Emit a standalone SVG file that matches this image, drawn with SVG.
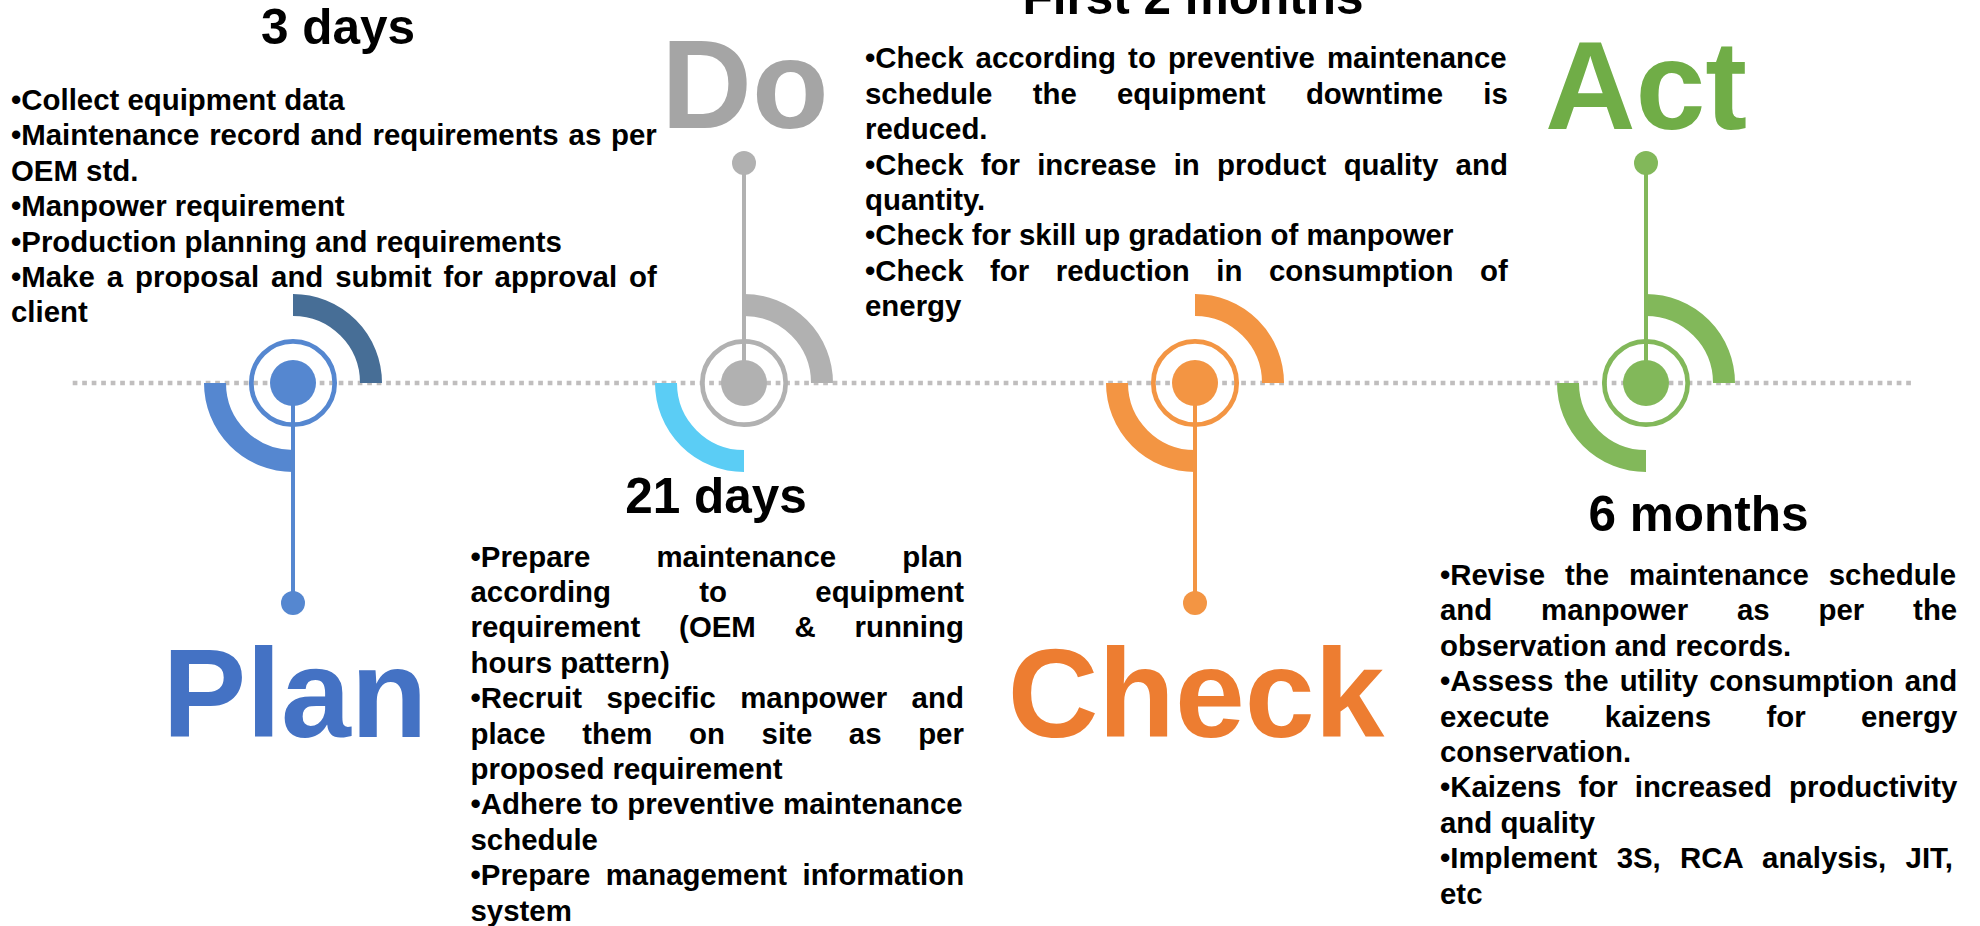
<svg xmlns="http://www.w3.org/2000/svg" width="1980" height="926" viewBox="0 0 1980 926">
<defs>
<style>
text{font-family:"Liberation Sans",Arial,sans-serif;font-weight:bold}
.b{font-size:29.4px;fill:#000}
.t{font-size:49.5px;fill:#000;text-anchor:middle}
.big{font-size:125.5px;text-anchor:middle}
.band{fill:none;stroke-width:22}
.ring{fill:none;stroke-width:4.7}
.stem{stroke-width:4}
</style>
</defs>
<rect width="1980" height="926" fill="#fff"/>
<g id="connectors">
<line x1="72.7" y1="383" x2="1912" y2="383" stroke="#C0BEBE" stroke-width="4.6" stroke-dasharray="4.7 4.8"/>
</g>
<g id="plan">
<path class="band" stroke="#476E96" d="M293,305 A78,78 0 0 1 371,383"/>
<path class="band" stroke="#5587D0" d="M215,383 A78,78 0 0 0 293,461"/>
<circle class="ring" stroke="#5587D0" cx="293" cy="383" r="41.7"/>
<circle fill="#5587D0" cx="293" cy="383" r="23"/>
<line class="stem" stroke="#5587D0" x1="293" y1="383" x2="293" y2="603"/>
<circle fill="#5587D0" cx="293" cy="603" r="12"/>
<text class="big" x="295" y="737" fill="#4472C4">Plan</text>
<text class="t" x="338" y="43.5">3 days</text>
<text class="b" x="11" y="110">•Collect equipment data</text>
<text class="b" x="11" y="145.4" word-spacing="1.66">•Maintenance record and requirements as per</text>
<text class="b" x="11" y="180.8">OEM std.</text>
<text class="b" x="11" y="216.2">•Manpower requirement</text>
<text class="b" x="11" y="251.6">•Production planning and requirements</text>
<text class="b" x="11" y="287" word-spacing="3.76">•Make a proposal and submit for approval of</text>
<text class="b" x="11" y="322.4">client</text>
</g>
<g id="do">
<path class="band" stroke="#B1B1B1" d="M744,305 A78,78 0 0 1 822,383"/>
<path class="band" stroke="#5BCDF5" d="M666,383 A78,78 0 0 0 744,461"/>
<circle class="ring" stroke="#B1B1B1" cx="744" cy="383" r="41.7"/>
<circle fill="#B1B1B1" cx="744" cy="383" r="23"/>
<line class="stem" stroke="#B1B1B1" x1="744" y1="383" x2="744" y2="163"/>
<circle fill="#B1B1B1" cx="744" cy="163" r="12"/>
<text class="big" x="745" y="128" fill="#A5A5A5">Do</text>
<text class="t" x="716" y="513">21 days</text>
<text class="b" x="470.5" y="566.5" word-spacing="58">•Prepare maintenance plan</text>
<text class="b" x="470.5" y="601.9" word-spacing="80.15">according to equipment</text>
<text class="b" x="470.5" y="637.3" word-spacing="30.57">requirement (OEM &amp; running</text>
<text class="b" x="470.5" y="672.7">hours pattern)</text>
<text class="b" x="470.5" y="708.1" word-spacing="16.2">•Recruit specific manpower and</text>
<text class="b" x="470.5" y="743.5" word-spacing="28.44">place them on site as per</text>
<text class="b" x="470.5" y="778.9">proposed requirement</text>
<text class="b" x="470.5" y="814.3" word-spacing="0.57">•Adhere to preventive maintenance</text>
<text class="b" x="470.5" y="849.7">schedule</text>
<text class="b" x="470.5" y="885.1" word-spacing="7.3">•Prepare management information</text>
<text class="b" x="470.5" y="920.5">system</text>
</g>
<g id="check">
<path class="band" stroke="#F39543" d="M1195,305 A78,78 0 0 1 1273,383"/>
<path class="band" stroke="#F39543" d="M1117,383 A78,78 0 0 0 1195,461"/>
<circle class="ring" stroke="#F39543" cx="1195" cy="383" r="41.7"/>
<circle fill="#F39543" cx="1195" cy="383" r="23"/>
<line class="stem" stroke="#F39543" x1="1195" y1="383" x2="1195" y2="603"/>
<circle fill="#F39543" cx="1195" cy="603" r="12"/>
<text class="big" x="1196" y="737" fill="#ED7D31">Check</text>
<text class="t" x="1193" y="13.5">First 2 months</text>
<text class="b" x="865" y="68.3" word-spacing="3.9">•Check according to preventive maintenance</text>
<text class="b" x="865" y="103.7" word-spacing="32.1">schedule the equipment downtime is</text>
<text class="b" x="865" y="139.1">reduced.</text>
<text class="b" x="865" y="174.5" word-spacing="9.07">•Check for increase in product quality and</text>
<text class="b" x="865" y="209.9">quantity.</text>
<text class="b" x="865" y="245.3">•Check for skill up gradation of manpower</text>
<text class="b" x="865" y="280.7" word-spacing="18.4">•Check for reduction in consumption of</text>
<text class="b" x="865" y="316.1">energy</text>
</g>
<g id="act">
<path class="band" stroke="#82B85A" d="M1646,305 A78,78 0 0 1 1724,383"/>
<path class="band" stroke="#82B85A" d="M1568,383 A78,78 0 0 0 1646,461"/>
<circle class="ring" stroke="#82B85A" cx="1646" cy="383" r="41.7"/>
<circle fill="#82B85A" cx="1646" cy="383" r="23"/>
<line class="stem" stroke="#82B85A" x1="1646" y1="383" x2="1646" y2="163"/>
<circle fill="#82B85A" cx="1646" cy="163" r="12"/>
<text class="big" x="1646" y="129" fill="#70AD47">Act</text>
<text class="t" x="1698.5" y="531">6 months</text>
<text class="b" x="1440" y="585" word-spacing="11.8">•Revise the maintenance schedule</text>
<text class="b" x="1440" y="620.4" word-spacing="40.7">and manpower as per the</text>
<text class="b" x="1440" y="655.8">observation and records.</text>
<text class="b" x="1440" y="691.2" word-spacing="3">•Assess the utility consumption and</text>
<text class="b" x="1440" y="726.6" word-spacing="47.2">execute kaizens for energy</text>
<text class="b" x="1440" y="762">conservation.</text>
<text class="b" x="1440" y="797.4" word-spacing="8.93">•Kaizens for increased productivity</text>
<text class="b" x="1440" y="832.8">and quality</text>
<text class="b" x="1440" y="868.2" word-spacing="11.2">•Implement 3S, RCA analysis, JIT,</text>
<text class="b" x="1440" y="903.6">etc</text>
</g>
</svg>
